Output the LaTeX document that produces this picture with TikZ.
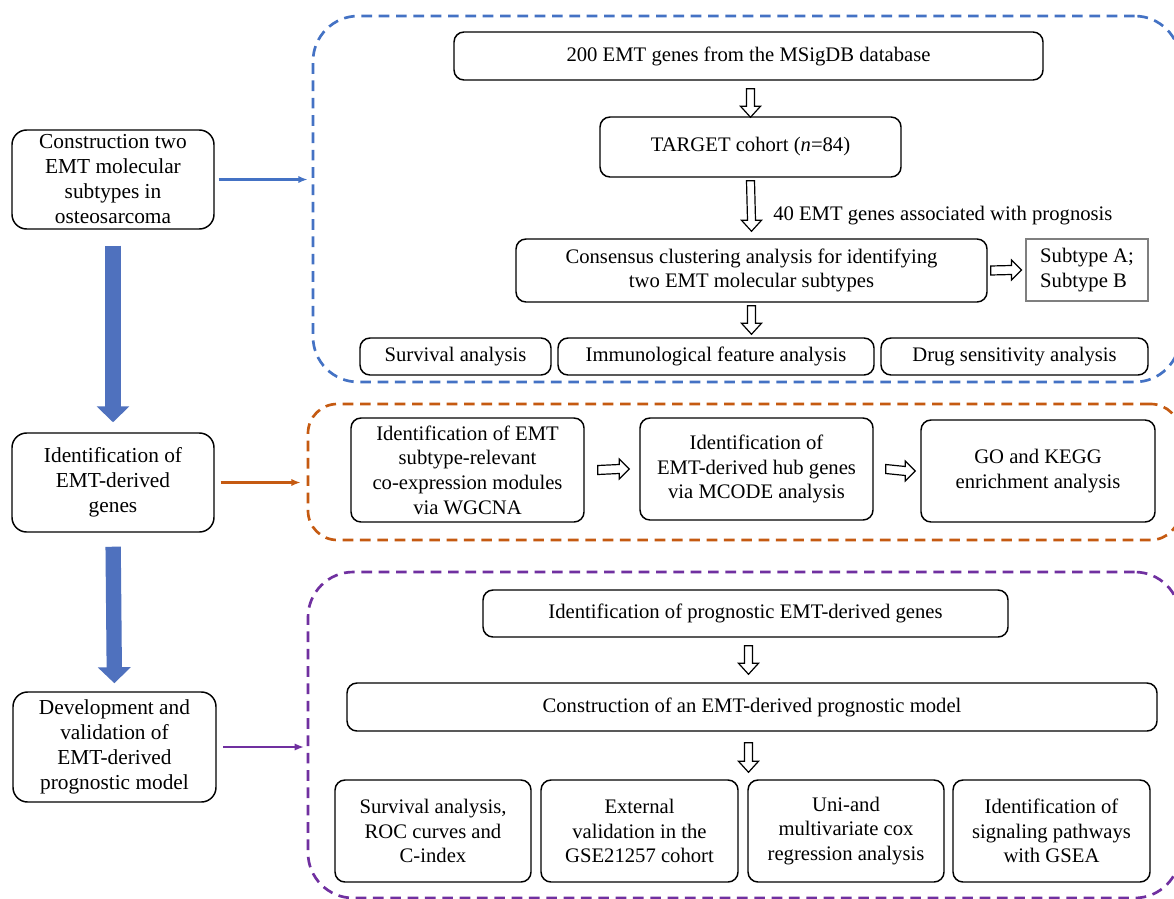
\documentclass[tikz,border=0pt]{standalone}
\usepackage{fontspec}
\setmainfont{Liberation Serif}
\usetikzlibrary{arrows.meta,calc}
\definecolor{eblue}{HTML}{4472C4}
\definecolor{bigblue}{HTML}{4F71BE}
\definecolor{eorange}{HTML}{C55A11}
\definecolor{epurple}{HTML}{7030A0}
\definecolor{sgray}{HTML}{7F7F7F}
% box from pixel corners: [style]{name}{x1}{y1}{x2}{y2}{text}
\newcommand{\mkbox}[7][]{%
  \pgfmathsetmacro{\mkbw}{(#5-#3)*0.75}%
  \pgfmathsetmacro{\mkbh}{(#6-#4)*0.75}%
  \node[#1,minimum width=\mkbw pt,minimum height=\mkbh pt] (#2) at ({(#3+#5)/2},{(#4+#6)/2}) {#7};}
% hollow vertical arrow from tail coordinate to tip coordinate
\newcommand{\varr}[2]{%
  \draw[harrow] ($(#1)+(-4,0)$) -- ($(#2)+(-4,-11)$) -- ($(#2)+(-10,-11)$) -- (#2)
    -- ($(#2)+(10,-11)$) -- ($(#2)+(4,-11)$) -- ($(#1)+(4,0)$) -- cycle;}
% hollow horizontal arrow
\newcommand{\harr}[2]{%
  \draw[harrow] ($(#1)+(0,-4.5)$) -- ($(#2)+(-10,-4.5)$) -- ($(#2)+(-10,-10)$) -- (#2)
    -- ($(#2)+(-10,10)$) -- ($(#2)+(-10,4.5)$) -- ($(#1)+(0,4.5)$) -- cycle;}
\begin{document}
\begin{tikzpicture}[x=0.75pt,y=-0.75pt,
  box/.style={draw, line width=1.1pt, rounded corners=7.5pt, align=center,
    font=\fontsize{15.5}{18.5}\selectfont, inner sep=1pt},
  lbox/.style={box, rounded corners=11pt, font=\fontsize{16}{18.75}\selectfont},
  sbox/.style={draw=sgray, line width=0.8pt, align=left,
    font=\fontsize{15.5}{18.5}\selectfont, inner sep=1pt},
  group/.style={draw, dash pattern=on 8pt off 5pt, line width=2pt, rounded corners=34pt},
  harrow/.style={draw, line width=0.9pt, fill=white, line join=miter},
  link/.style={line width=1.6pt, -{Latex[length=7pt,width=5.5pt]}},
  bigarrow/.style={draw=bigblue, line width=11.5pt, -{Triangle[length=12pt,width=24pt]}}]
\useasboundingbox (0,0) rectangle (1174,899);
\clip (0,0) rectangle (1174,899);
\fill[white] (0,0) rectangle (1174,899);

% groups
\mkbox[group, draw=eblue]{G1}{313}{16}{1180}{382}{}
\mkbox[group, draw=eorange, rounded corners=22pt]{G2}{308}{404}{1180}{540}{}
\mkbox[group, draw=epurple]{G3}{308}{572}{1180}{898}{}

% left column
\mkbox[lbox]{L1}{12}{130}{214}{229}{Construction two\\EMT molecular\\subtypes in\\osteosarcoma}
\mkbox[lbox]{L2}{12}{433}{214}{532}{Identification of\\EMT-derived\\genes}
\mkbox[lbox]{L3}{13}{692}{216}{802}{Development and\\validation of\\EMT-derived\\prognostic model}

\draw[bigarrow, shorten <=12pt, shorten >=7.5pt] (L1.south) -- (L2.north);
\draw[bigarrow, shorten <=10.5pt, shorten >=6pt] (L2.south) -- (L3.north);

\draw[link, eblue, shorten <=3pt, shorten >=3pt] (L1.east) -- (L1.east -| G1.west);
\draw[link, eorange, shorten <=4.5pt, shorten >=4.5pt] (L2.east) -- (L2.east -| G2.west);
\draw[link, epurple, shorten <=5pt, shorten >=2pt] (L3.east) -- (L3.east -| G3.west);

% blue group content
\mkbox[box]{msig}{454}{32}{1043}{80}{200 EMT genes from the MSigDB database}
\mkbox[box]{target}{600}{117}{901}{177}{TARGET cohort (\textit{n}=84)}
\mkbox[box]{cons}{516}{239}{987}{302}{Consensus clustering analysis for identifying\\two EMT molecular subtypes}
\mkbox[sbox]{sub}{1026}{239}{1148}{301}{Subtype A;\\Subtype B}
\mkbox[box]{surv}{360}{338}{551}{375}{Survival analysis}
\mkbox[box]{immu}{558}{338}{874}{375}{Immunological feature analysis}
\mkbox[box]{drug}{881}{338}{1148}{375}{Drug sensitivity analysis}
\node[anchor=west, inner sep=0pt, font=\fontsize{15.5}{18.5}\selectfont] (lbl40) at (773,216) {40 EMT genes associated with prognosis};

\coordinate (b1s) at ($(msig.south)+(2,8)$);
\coordinate (b1e) at ($(target.north)+(0,1)$);
\coordinate (b2s) at ($(target.south)+(0,3)$);
\coordinate (b2e) at ($(cons.north)+(0,-7)$);
\coordinate (b3s) at ($(cons.south)+(0,3)$);
\coordinate (b3e) at ($(cons.south |- immu.north)+(0,-3)$);
\coordinate (b4s) at ($(cons.east)+(3,0)$);
\coordinate (b4e) at ($(sub.west)+(-4,0)$);
\varr{b1s}{b1e}
\varr{b2s}{b2e}
\varr{b3s}{b3e}
\harr{b4s}{b4e}

% orange group content
\mkbox[box]{wgcna}{351}{418}{584}{522}{Identification of EMT\\subtype-relevant\\co-expression modules\\via WGCNA}
\mkbox[box]{mcode}{640}{418}{873}{520}{Identification of\\EMT-derived hub genes\\via MCODE analysis}
\mkbox[box]{gokegg}{921}{420}{1155}{522}{GO and KEGG\\enrichment analysis}
\coordinate (o1s) at ($(wgcna.east)+(13,0)$);
\coordinate (o1e) at ($(mcode.west)+(-10,0)$);
\coordinate (o2s) at ($(mcode.east)+(12,0)$);
\coordinate (o2e) at ($(gokegg.west)+(-5,0)$);
\harr{o1s}{o1e}
\harr{o2s}{o2e}

% purple group content
\mkbox[box]{progg}{483}{590}{1008}{637}{Identification of prognostic EMT-derived genes}
\mkbox[box]{model}{347}{683}{1157}{731}{Construction of an EMT-derived prognostic model}
\mkbox[box]{roc}{335}{780}{531}{882}{Survival analysis,\\ROC curves and\\C-index}
\mkbox[box]{ext}{541}{780}{738}{882}{External\\validation in the\\GSE21257 cohort}
\mkbox[box]{cox}{748}{780}{944}{882}{Uni-and\\multivariate cox\\regression analysis}
\mkbox[box]{gsea}{953}{780}{1150}{882}{Identification of\\signaling pathways\\with GSEA}
\coordinate (p1s) at ($(progg.south)+(3,8)$);
\coordinate (p1e) at ($(progg.south |- model.north)+(3,-8)$);
\coordinate (p2s) at ($(p1s |- model.south)+(0,11)$);
\coordinate (p2e) at ($(p1s |- roc.north)+(0,-7)$);
\varr{p1s}{p1e}
\varr{p2s}{p2e}
\end{tikzpicture}
\end{document}
